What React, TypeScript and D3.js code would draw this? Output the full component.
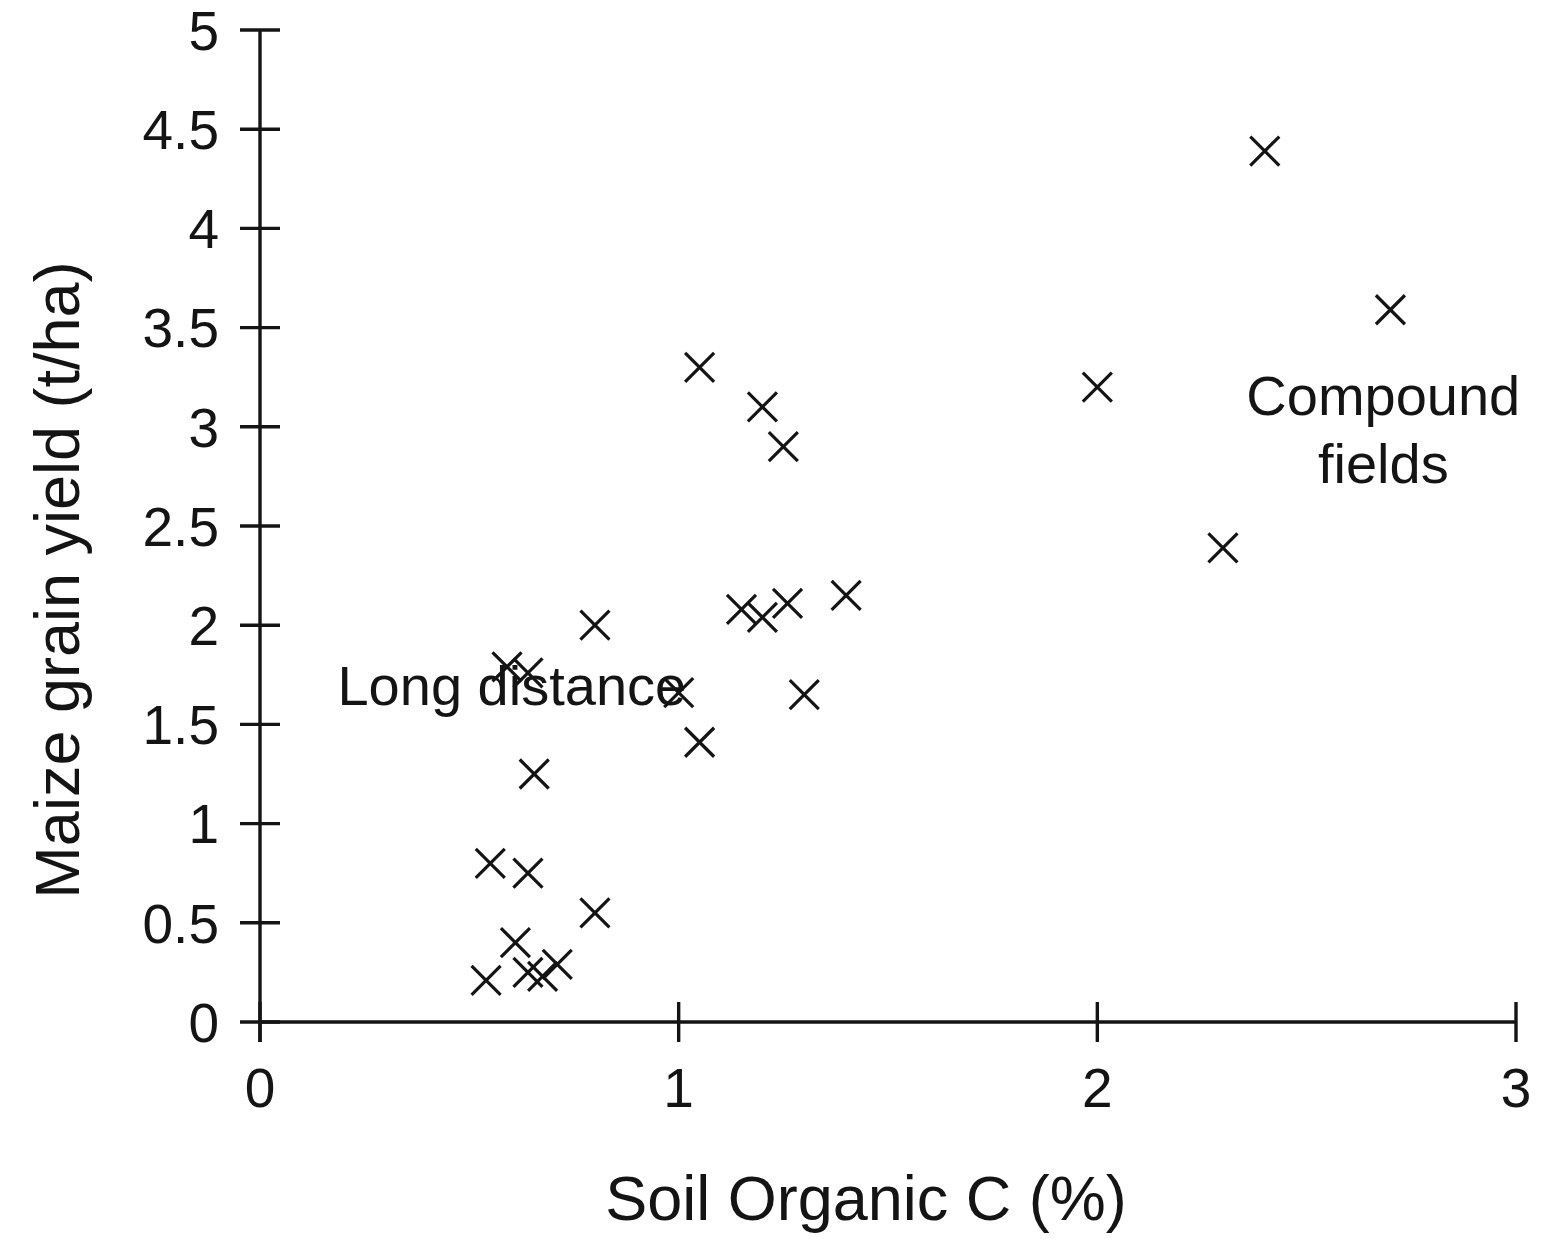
import React from "react";
import * as d3 from "d3";

// Soil organic C (%) and maize grain yield (t/ha)
const socValues = [2.40, 2.70, 2.00, 2.30, 1.05, 1.20, 1.25, 1.40, 1.26, 1.20, 1.15, 1.30, 1.00, 1.05, 0.80, 0.59, 0.64, 0.655, 0.55, 0.64, 0.80, 0.61, 0.54, 0.64, 0.675, 0.71];
const yieldValues = [4.39, 3.59, 3.20, 2.39, 3.30, 3.10, 2.90, 2.15, 2.11, 2.04, 2.08, 1.65, 1.66, 1.41, 2.00, 1.79, 1.76, 1.25, 0.80, 0.75, 0.55, 0.40, 0.21, 0.25, 0.23, 0.29];

const xTicks = [0, 1, 2, 3];
const yTicks = [0, 0.5, 1, 1.5, 2, 2.5, 3, 3.5, 4, 4.5, 5];

const xTitle = "Soil Organic C (%)";
const yTitle = "Maize grain yield (t/ha)";
const annotations = [
  { lines: ["Long distance"], x: 0.185, y: 1.60, anchor: "start" },
  { lines: ["Compound", "fields"], x: 2.683, y: 3.06, anchor: "middle" },
];

const W = 1553;
const H = 1239;
const FONT = "'Liberation Sans', Arial, Helvetica, sans-serif";
const INK = "#141414";

export default function App() {
  const x = d3.scaleLinear().domain([0, 3]).range([260, 1516]);
  const y = d3.scaleLinear().domain([0, 5]).range([1022, 30]);
  const cross = "M-14.5,-14.5L14.5,14.5M-14.5,14.5L14.5,-14.5";
  const tickHalf = 20;
  const sw = 3.4;

  return (
    <svg
      width={W}
      height={H}
      viewBox={`0 0 ${W} ${H}`}
      style={{ position: "absolute", left: 0, top: 0, background: "#fff" }}
    >
      <rect x={0} y={0} width={W} height={H} fill="#fff" />
      {/* axes */}
      <line x1={x(0)} x2={x(0)} y1={y(5)} y2={y(0) + tickHalf} stroke={INK} strokeWidth={sw} />
      <line x1={x(0)} x2={x(3)} y1={y(0)} y2={y(0)} stroke={INK} strokeWidth={sw} />
      {yTicks.map((t) => (
        <g key={"y" + t}>
          <line x1={x(0) - tickHalf} x2={x(0) + tickHalf} y1={y(t)} y2={y(t)} stroke={INK} strokeWidth={sw} />
          <text
            x={x(0) - 41}
            y={y(t)}
            dy="0.36em"
            textAnchor="end"
            fontFamily={FONT}
            fontSize={55}
            fill={INK}
          >
            {t}
          </text>
        </g>
      ))}
      {xTicks.map((t) => (
        <g key={"x" + t}>
          <line x1={x(t)} x2={x(t)} y1={y(0) - tickHalf} y2={y(0) + tickHalf} stroke={INK} strokeWidth={sw} />
          <text
            x={x(t)}
            y={1107}
            textAnchor="middle"
            fontFamily={FONT}
            fontSize={55}
            fill={INK}
          >
            {t}
          </text>
        </g>
      ))}
      {/* axis titles */}
      <text x={866} y={1220} textAnchor="middle" fontFamily={FONT} fontSize={63} fill={INK}>
        {xTitle}
      </text>
      <text
        transform={`translate(79, ${580}) rotate(-90)`}
        textAnchor="middle"
        fontFamily={FONT}
        fontSize={63}
        fill={INK}
      >
        {yTitle}
      </text>
      {/* annotations */}
      {annotations.map((a, i) => (
        <text
          key={i}
          x={x(a.x)}
          y={y(a.y)}
          textAnchor={a.anchor}
          fontFamily={FONT}
          fontSize={56}
          fill={INK}
        >
          {a.lines.map((l, j) => (
            <tspan key={j} x={x(a.x)} dy={j === 0 ? 0 : 68}>
              {l}
            </tspan>
          ))}
        </text>
      ))}
      {/* points */}
      {socValues.map((v, i) => (
        <path
          key={i}
          d={cross}
          transform={`translate(${x(v)},${y(yieldValues[i])})`}
          stroke={INK}
          strokeWidth={3.2}
          fill="none"
        />
      ))}
    </svg>
  );
}
